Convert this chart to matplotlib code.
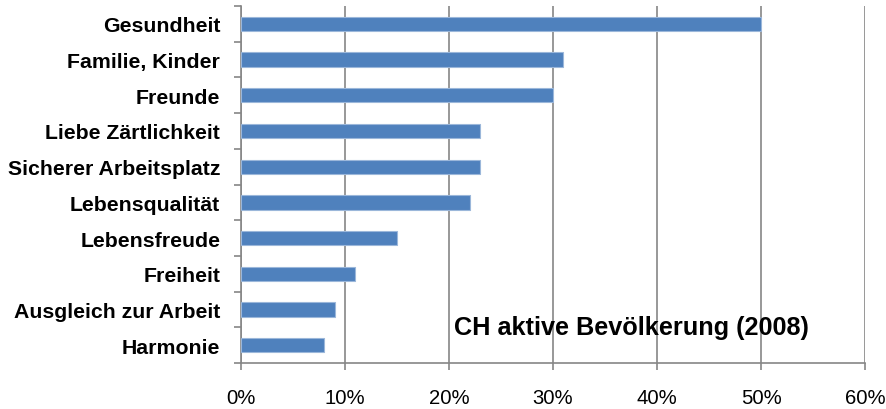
import matplotlib.pyplot as plt
from matplotlib.ticker import PercentFormatter

# ── Daten ────────────────────────────────────────────────────
categories = ['Gesundheit', 'Familie, Kinder', 'Freunde', 'Liebe Zärtlichkeit',
              'Sicherer Arbeitsplatz', 'Lebensqualität', 'Lebensfreude',
              'Freiheit', 'Ausgleich zur Arbeit', 'Harmonie']
values = [50, 31, 30, 23, 23, 22, 15, 11, 9, 8]
xticks = [0, 10, 20, 30, 40, 50, 60]
note = 'CH aktive Bevölkerung (2008)'

plt.rcParams['font.family'] = ['Liberation Sans', 'DejaVu Sans']

# ── Plot ─────────────────────────────────────────────────────
fig = plt.figure(figsize=(8.86, 4.10), dpi=100)
ax = fig.add_axes([0.272, 0.112, 0.7043, 0.871])

pos = list(range(len(categories)))[::-1]
ax.barh(pos, values, height=0.4, color='#4F81BD', edgecolor='#9BB7DA',
        linewidth=0.8, zorder=3)

ax.set_xlim(0, 60)
ax.set_ylim(-0.5, len(categories) - 0.5)
ax.set_xticks(xticks)
ax.xaxis.set_major_formatter(PercentFormatter(decimals=0))
ax.set_yticks(pos)
ax.set_yticklabels(categories, fontweight='bold', fontsize=15.3)
ax.set_yticks([p - 0.5 for p in range(len(categories) + 1)], minor=True)

ax.tick_params(axis='y', which='major', length=0, pad=15)
ax.tick_params(axis='y', which='minor', length=5, color='#868686', width=1.2)
ax.tick_params(axis='x', length=5, color='#868686', width=1.2, labelsize=14.6, pad=13)

ax.grid(axis='x', color='#868686', linewidth=1.2, zorder=0)
for s in ['top', 'right']:
    ax.spines[s].set_visible(False)
for s in ['left', 'bottom']:
    ax.spines[s].set_color('#868686')
    ax.spines[s].set_linewidth(1.2)

ax.text(20.5, 0.5, note, fontsize=18.2, fontweight='bold', va='center', ha='left', zorder=4)

plt.savefig('out.png', dpi=100)
